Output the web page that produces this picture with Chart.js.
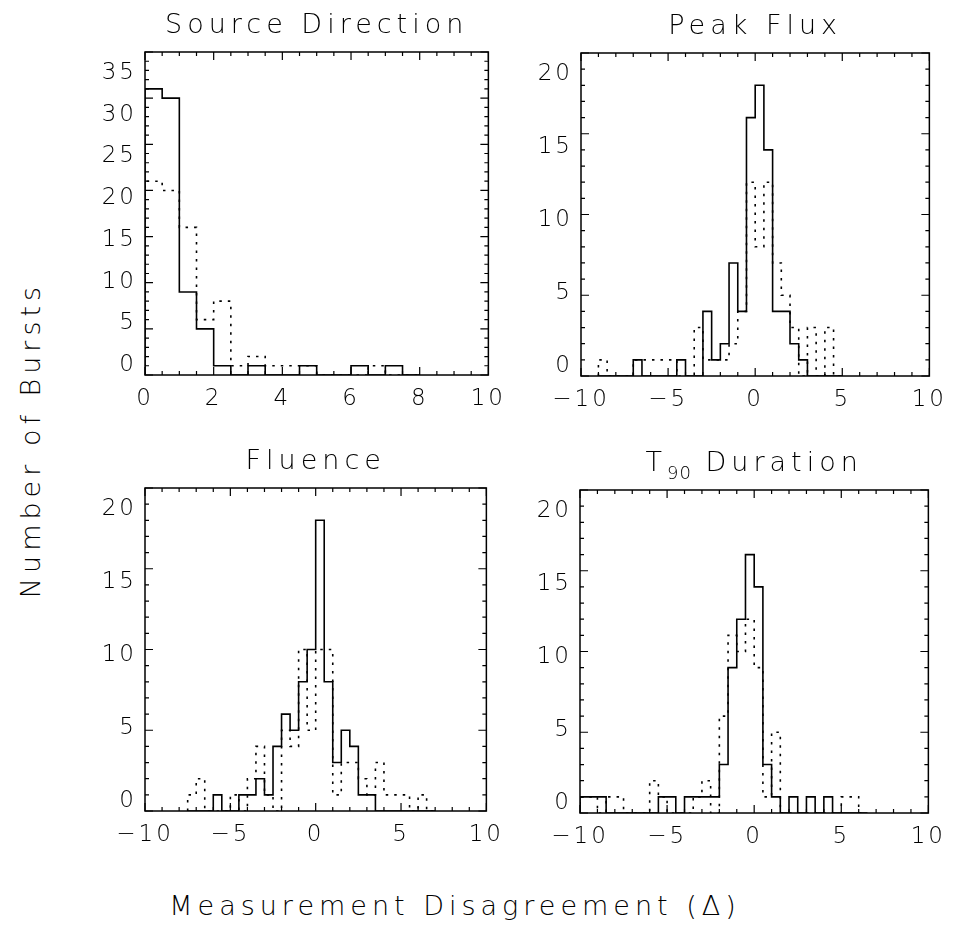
<!DOCTYPE html>
<html>
<head>
<meta charset="utf-8">
<script src="https://cdn.jsdelivr.net/npm/chart.js@4.4.1/dist/chart.umd.min.js"></script>
<style>
    body { margin: 0; background: #fff; width: 955px; height: 936px; position: relative; overflow: hidden; }
    canvas { position: absolute; }
    .axis-title { position: absolute; color: #000; font-family: "DejaVu Sans", sans-serif; font-weight: 200;
                  font-size: 27px; letter-spacing: 5px; white-space: nowrap; }
    #ylab { left: 30px; top: 440px; transform: translate(-50%, -50%) rotate(-90deg); }
    #xlab { left: 455px; top: 905px; transform: translate(-50%, -50%); }
</style>
</head>
<body>
<canvas id="srcChart"></canvas>
<canvas id="peakChart"></canvas>
<canvas id="fluChart"></canvas>
<canvas id="t90Chart"></canvas>
<div class="axis-title" id="ylab">Number of Bursts</div>
<div class="axis-title" id="xlab">Measurement Disagreement (Δ)</div>
<script>
// bin starts (bins are 0.5 wide), solid and dotted counts per bin

// Source Direction
const srcBins   = [0, 0.5, 1, 1.5, 2, 2.5, 3, 3.5, 4, 4.5, 5, 5.5, 6, 6.5, 7, 7.5];
const srcSolid  = [31, 30, 9, 5, 1, 0, 1, 0, 0, 1, 0, 0, 1, 0, 1, 0];
const srcDotted = [21, 20, 16, 6, 8, 1, 2, 1, 1, 1, 0, 0, 0, 1, 0, 0];

// Peak Flux
const peakBins   = [-9, -8.5, -8, -7.5, -7, -6.5, -6, -5.5, -5, -4.5, -4, -3.5, -3, -2.5,
                    -2, -1.5, -1, -0.5, 0, 0.5, 1, 1.5, 2, 2.5, 3, 3.5, 4, 4.5];
const peakSolid  = [0, 0, 0, 0, 1, 0, 0, 0, 0, 1, 0, 0, 4, 1, 2, 7, 4, 16, 18, 14, 4, 4, 2, 1, 0, 0, 0, 0];
const peakDotted = [1, 0, 0, 0, 1, 1, 1, 1, 1, 0, 0, 3, 1, 1, 1, 2, 4, 12, 8, 12, 7, 5, 3, 0, 3, 0, 3, 0];

// Fluence
const fluBins   = [-7.5, -7, -6.5, -6, -5.5, -5, -4.5, -4, -3.5, -3, -2.5, -2, -1.5, -1, -0.5,
                   0, 0.5, 1, 1.5, 2, 2.5, 3, 3.5, 4, 4.5, 5, 5.5, 6, 6.5];
const fluSolid  = [0, 0, 0, 1, 0, 0, 1, 1, 2, 1, 4, 6, 5, 8, 10, 18, 8, 3, 5, 4, 1, 1, 0, 0, 0, 0, 0, 0, 0];
const fluDotted = [1, 2, 0, 0, 0, 1, 0, 2, 4, 1, 0, 5, 4, 10, 5, 10, 10, 1, 3, 3, 2, 1, 3, 1, 1, 1, 0, 1, 0];

// T90 Duration
const t90Bins   = [-10, -9.5, -9, -8.5, -8, -7.5, -7, -6.5, -6, -5.5, -5, -4.5, -4, -3.5, -3, -2.5,
                   -2, -1.5, -1, -0.5, 0, 0.5, 1, 1.5, 2, 2.5, 3, 3.5, 4, 4.5, 5, 5.5, 6];
const t90Solid  = [1, 1, 1, 0, 0, 0, 0, 0, 0, 1, 1, 0, 1, 1, 1, 1, 3, 9, 12, 16, 14, 3, 1, 0, 1, 0, 1, 0, 1, 0, 0, 0, 0];
const t90Dotted = [1, 1, 0, 1, 1, 0, 0, 0, 2, 1, 0, 0, 0, 1, 2, 0, 6, 11, 10, 12, 9, 1, 5, 0, 0, 0, 0, 0, 0, 0, 1, 1, 0];

const binWidth = 0.5;
const FONT = '"DejaVu Sans", sans-serif';

function toSteps(bins, counts) {
    let pts = [{ x: bins[0], y: 0 }];
    bins.forEach((b, i) => pts.push({ x: b, y: counts[i] }));
    pts.push({ x: bins[bins.length - 1] + binWidth, y: 0 });
    return pts;
}

function fmt(v) {
    return v < 0 ? '\u2212' + Math.abs(v) : String(v);
}

// box, inward ticks on all four sides and the panel title
const framePlugin = {
    id: 'frame',
    beforeDraw(chart) {
        chart.ctx.letterSpacing = '3px';
    },
    afterDraw(chart, args, opts) {
        const ctx = chart.ctx;
        const a = chart.chartArea;
        const xs = chart.scales.x, ys = chart.scales.y;
        ctx.save();
        ctx.strokeStyle = '#000';
        ctx.lineWidth = 1.5;
        ctx.strokeRect(a.left, a.top, a.right - a.left, a.bottom - a.top);
        ctx.lineWidth = 1.2;
        ctx.beginPath();
        for (let v = xs.min; v <= xs.max + 1e-9; v += opts.xMinor) {
            const major = Math.abs(v / opts.xMajor - Math.round(v / opts.xMajor)) < 1e-6;
            const len = major ? 8 : 4;
            const px = xs.getPixelForValue(v);
            ctx.moveTo(px, a.bottom); ctx.lineTo(px, a.bottom - len);
            ctx.moveTo(px, a.top); ctx.lineTo(px, a.top + len);
        }
        for (let v = ys.min; v <= ys.max + 1e-9; v += opts.yMinor) {
            const major = Math.abs(v / opts.yMajor - Math.round(v / opts.yMajor)) < 1e-6;
            const len = major ? 8 : 4;
            const py = ys.getPixelForValue(v);
            ctx.moveTo(a.left, py); ctx.lineTo(a.left + len, py);
            ctx.moveTo(a.right, py); ctx.lineTo(a.right - len, py);
        }
        ctx.stroke();

        // title
        ctx.fillStyle = '#000';
        ctx.textBaseline = 'alphabetic';
        ctx.textAlign = 'left';
        const cx = (a.left + a.right) / 2;
        const by = a.top - 19;
        const big = '200 27px ' + FONT, small = '200 18px ' + FONT;
        const parts = opts.title;
        const setPart = p => {
            ctx.font = p.sub ? small : big;
            ctx.letterSpacing = p.sub ? '1px' : '5px';
        };
        let total = 0;
        parts.forEach(p => { setPart(p); total += ctx.measureText(p.text).width; });
        let x = cx - total / 2;
        parts.forEach(p => {
            setPart(p);
            ctx.fillText(p.text, x, p.sub ? by + 8 : by);
            x += ctx.measureText(p.text).width;
        });
        ctx.restore();
    }
};

function makePanel(id, box, cfg) {
    const L = 80, R = 20, T = 60, B = 50;
    const cv = document.getElementById(id);
    const w = box.r - box.l + L + R, h = box.b - box.t + T + B;
    cv.style.left = (box.l - L) + 'px';
    cv.style.top = (box.t - T) + 'px';
    cv.style.width = w + 'px';
    cv.style.height = h + 'px';
    cv.width = w;
    cv.height = h;

    const tickFont = { family: FONT, size: 23, weight: '200' };

    // the count labels sit a little inside the ends of the axis, as in the original
    const boxH = box.b - box.t;
    const labBottom = 10, labTop = 21;
    const k = (boxH - labBottom - labTop) / cfg.yMax;
    const labMin = -labBottom / k;
    const labMax = labMin + boxH / k;

    return new Chart(cv, {
        type: 'line',
        data: {
            datasets: [{
                data: toSteps(cfg.bins, cfg.solid),
                xAxisID: 'x',
                yAxisID: 'y',
                borderColor: '#000',
                borderWidth: 1.6,
                stepped: 'before',
                pointRadius: 0,
                fill: false
            }, {
                data: toSteps(cfg.bins, cfg.dotted),
                xAxisID: 'x',
                yAxisID: 'y',
                borderColor: '#000',
                borderWidth: 1.6,
                borderDash: [2.5, 6],
                stepped: 'before',
                pointRadius: 0,
                fill: false
            }]
        },
        options: {
            responsive: false,
            animation: false,
            layout: { padding: { top: T, right: R, left: 0, bottom: 0 }, autoPadding: false },
            plugins: {
                legend: { display: false },
                tooltip: { enabled: false },
                frame: cfg.frame
            },
            scales: {
                x: {
                    type: 'linear',
                    min: cfg.xMin,
                    max: cfg.xMax,
                    grid: { display: false, drawTicks: false },
                    border: { display: false },
                    ticks: { stepSize: cfg.frame.xMajor, font: tickFont, color: '#000', padding: 10,
                             maxRotation: 0, autoSkip: false, callback: v => fmt(v) },
                    afterFit(s) { s.height = B; }
                },
                y: {
                    type: 'linear',
                    display: false,
                    min: 0,
                    max: cfg.yMax
                },
                yLab: {
                    type: 'linear',
                    position: 'left',
                    min: labMin,
                    max: labMax,
                    grid: { display: false, drawTicks: false },
                    border: { display: false },
                    ticks: { stepSize: 5, includeBounds: false, font: tickFont, color: '#000', padding: 8,
                             callback: v => (v >= 0 && v <= cfg.yMax ? String(v) : '') },
                    afterBuildTicks(s) {
                        s.ticks = s.ticks.filter(t => t.value >= 0 && t.value <= cfg.yMax);
                    },
                    afterFit(s) { s.width = L; }
                }
            }
        },
        plugins: [framePlugin]
    });
}

makePanel('srcChart', { l: 145, r: 493, t: 52, b: 375 }, {
    bins: srcBins, solid: srcSolid, dotted: srcDotted, xMin: 0, xMax: 10, yMax: 35,
    frame: { xMajor: 2, xMinor: 0.5, yMajor: 5, yMinor: 1, title: [{ text: 'Source Direction' }] }
});
makePanel('peakChart', { l: 581, r: 934, t: 53, b: 376 }, {
    bins: peakBins, solid: peakSolid, dotted: peakDotted, xMin: -10, xMax: 10, yMax: 20,
    frame: { xMajor: 5, xMinor: 1, yMajor: 5, yMinor: 1, title: [{ text: 'Peak Flux' }] }
});
makePanel('fluChart', { l: 145, r: 491, t: 488, b: 811 }, {
    bins: fluBins, solid: fluSolid, dotted: fluDotted, xMin: -10, xMax: 10, yMax: 20,
    frame: { xMajor: 5, xMinor: 1, yMajor: 5, yMinor: 1, title: [{ text: 'Fluence' }] }
});
makePanel('t90Chart', { l: 580, r: 933, t: 490, b: 813 }, {
    bins: t90Bins, solid: t90Solid, dotted: t90Dotted, xMin: -10, xMax: 10, yMax: 20,
    frame: { xMajor: 5, xMinor: 1, yMajor: 5, yMinor: 1,
             title: [{ text: 'T' }, { text: '90', sub: true }, { text: ' Duration' }] }
});
</script>
</body>
</html>
